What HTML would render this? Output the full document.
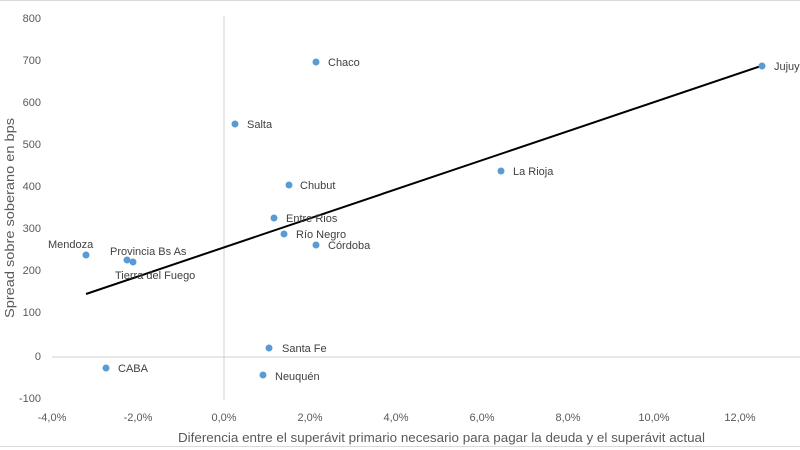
<!DOCTYPE html>
<html><head><meta charset="utf-8"><style>
body{margin:0;background:#fff}
svg{display:block;font-family:"Liberation Sans",sans-serif}
</style></head><body>
<svg width="800" height="450" viewBox="0 0 800 450">
<rect width="800" height="450" fill="#fff"/>
<line x1="0" y1="0.5" x2="800" y2="0.5" stroke="#d9d9d9"/>
<line x1="0" y1="446.5" x2="800" y2="446.5" stroke="#d9d9d9"/>
<line x1="224" y1="16" x2="224" y2="400" stroke="#d0d0d0" stroke-width="1"/>
<line x1="52" y1="357" x2="800" y2="357" stroke="#d0d0d0" stroke-width="1"/>
<g font-size="11" fill="#595959" text-anchor="end">
<text x="41" y="22">800</text><text x="41" y="64">700</text><text x="41" y="106">600</text>
<text x="41" y="148">500</text><text x="41" y="190">400</text><text x="41" y="232">300</text>
<text x="41" y="274">200</text><text x="41" y="316">100</text><text x="41" y="360">0</text>
<text x="41" y="402">-100</text>
</g>
<g font-size="11" fill="#595959" text-anchor="middle">
<text x="52" y="421">-4,0%</text><text x="138" y="421">-2,0%</text><text x="224" y="421">0,0%</text>
<text x="310" y="421">2,0%</text><text x="396" y="421">4,0%</text><text x="482" y="421">6,0%</text>
<text x="568" y="421">8,0%</text><text x="654" y="421">10,0%</text><text x="740" y="421">12,0%</text>
</g>
<text x="178" y="442" font-size="13" fill="#595959" textLength="527" lengthAdjust="spacingAndGlyphs">Diferencia entre el superávit primario necesario para pagar la deuda y el superávit actual</text>
<text transform="translate(14,218) rotate(-90)" font-size="12.5" fill="#595959" text-anchor="middle" textLength="200" lengthAdjust="spacingAndGlyphs">Spread sobre soberano en bps</text>
<line x1="86" y1="294" x2="764" y2="65" stroke="#000" stroke-width="2"/>
<g fill="#5b9bd5">
<circle cx="316" cy="62" r="3.5"/><circle cx="762" cy="66" r="3.5"/><circle cx="235" cy="124" r="3.5"/>
<circle cx="501" cy="171" r="3.5"/><circle cx="289" cy="185" r="3.5"/><circle cx="274" cy="218" r="3.5"/>
<circle cx="284" cy="234" r="3.5"/><circle cx="316" cy="245" r="3.5"/><circle cx="86" cy="255" r="3.5"/>
<circle cx="127" cy="260" r="3.5"/><circle cx="133" cy="262" r="3.5"/><circle cx="269" cy="348" r="3.5"/>
<circle cx="106" cy="368" r="3.5"/><circle cx="263" cy="375" r="3.5"/>
</g>
<g font-size="11" fill="#404040">
<text x="328" y="66">Chaco</text><text x="774" y="70">Jujuy</text><text x="247" y="128">Salta</text>
<text x="513" y="175">La Rioja</text><text x="300" y="189">Chubut</text><text x="286" y="222">Entre Rios</text>
<text x="296" y="238">Río Negro</text><text x="328" y="249">Córdoba</text><text x="48" y="248">Mendoza</text>
<text x="110" y="255">Provincia Bs As</text><text x="115" y="279">Tierra del Fuego</text>
<text x="282" y="352">Santa Fe</text><text x="118" y="372">CABA</text><text x="275" y="380">Neuquén</text>
</g>
</svg>
</body></html>
